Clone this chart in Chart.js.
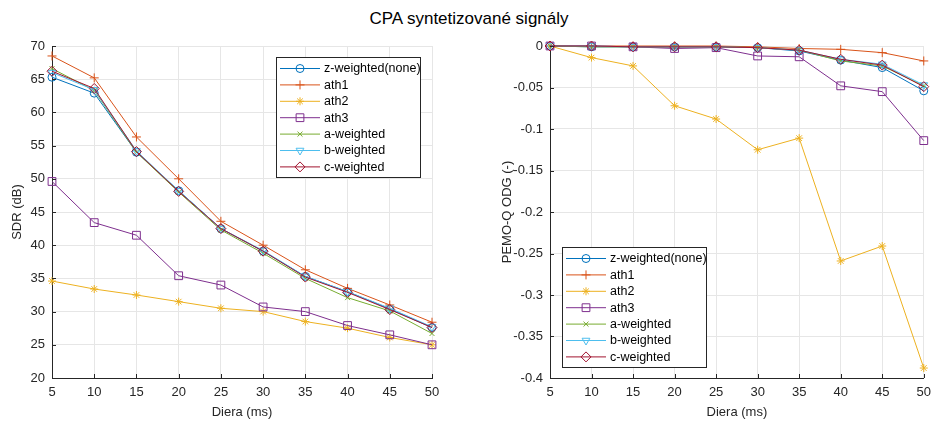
<!DOCTYPE html>
<html>
<head>
<meta charset="utf-8">
<script src="https://cdn.jsdelivr.net/npm/chart.js@4/dist/chart.umd.min.js"></script>
<style>
  body { margin: 0; background: #fff; width: 938px; height: 421px; overflow: hidden; position: relative; font-family: "Liberation Sans", Arial, sans-serif; }
  #title { position: absolute; top: 9px; left: 0; width: 938px; text-align: center; font-size: 17px; color: #000; }
  canvas { position: absolute; top: 0; }
</style>
</head>
<body>
<div id="title">CPA syntetizované signály</div>
<canvas id="sdrChart" width="469" height="421" style="left:0"></canvas>
<canvas id="odgChart" width="469" height="421" style="left:469px"></canvas>
<script>
// data
const diera = [5, 10, 15, 20, 25, 30, 35, 40, 45, 50];
const seriesNames = ['z-weighted(none)', 'ath1', 'ath2', 'ath3', 'a-weighted', 'b-weighted', 'c-weighted'];

const sdrZ    = [65.3, 62.9, 54.0, 48.2, 42.5, 39.1, 35.3, 33.0, 30.4, 27.6];
const sdrAth1 = [68.5, 65.2, 56.3, 50.0, 43.6, 40.0, 36.3, 33.5, 31.0, 28.4];
const sdrAth2 = [34.6, 33.4, 32.5, 31.5, 30.5, 30.0, 28.5, 27.5, 26.1, 25.0];
const sdrAth3 = [49.6, 43.4, 41.5, 35.4, 34.0, 30.7, 30.0, 27.9, 26.5, 25.0];
const sdrA    = [66.6, 63.3, 54.0, 48.0, 42.3, 38.8, 35.0, 32.1, 30.1, 26.7];
const sdrB    = [66.0, 63.4, 54.2, 48.2, 42.5, 39.2, 35.3, 33.0, 30.5, 27.7];
const sdrC    = [66.2, 63.6, 54.1, 48.1, 42.5, 39.1, 35.2, 32.9, 30.3, 27.6];

const odgZ    = [0, -0.001, -0.001, -0.001, -0.001, -0.002, -0.006, -0.017, -0.026, -0.054];
const odgAth1 = [0, 0, 0, 0, 0, -0.001, -0.003, -0.004, -0.008, -0.018];
const odgAth2 = [0, -0.014, -0.024, -0.072, -0.088, -0.125, -0.111, -0.259, -0.241, -0.388];
const odgAth3 = [0, 0, -0.001, -0.003, -0.002, -0.012, -0.013, -0.048, -0.055, -0.114];
const odgA    = [0, -0.001, -0.001, -0.001, -0.001, -0.002, -0.005, -0.018, -0.024, -0.048];
const odgB    = [0, 0, -0.001, -0.001, -0.001, -0.002, -0.005, -0.016, -0.022, -0.047];
const odgC    = [0, 0, -0.001, -0.001, -0.001, -0.002, -0.005, -0.016, -0.023, -0.049];

const sdrTicks = [20, 25, 30, 35, 40, 45, 50, 55, 60, 65, 70];
const odgTicks = [-0.4, -0.35, -0.3, -0.25, -0.2, -0.15, -0.1, -0.05, 0];

// matlab default colours and markers
const colors = ['#0072BD', '#D95319', '#EDB120', '#7E2F8E', '#77AC30', '#4DBEEE', '#A2142F'];
const markers = ['circle', 'cross', 'star', 'rect', 'crossRot', 'triangle', 'rectRot'];
const markerRadius = [4, 4.5, 4, 5.5, 3.5, 4.5, 5];
const markerRotation = [0, 0, 0, 0, 0, 180, 0];

const FONT = '"Liberation Sans", Arial, sans-serif';
const TEXT = '#262626';

function makeDatasets(lists) {
    return lists.map(function (vals, i) {
        return {
            label: seriesNames[i],
            data: vals.map(function (v, j) { return { x: diera[j], y: v }; }),
            borderColor: colors[i],
            backgroundColor: 'rgba(0,0,0,0)',
            pointBorderColor: colors[i],
            pointBackgroundColor: 'rgba(0,0,0,0)',
            pointStyle: markers[i],
            pointRadius: markerRadius[i],
            pointRotation: markerRotation[i],
            pointBorderWidth: 1,
            borderWidth: 1,
            tension: 0,
            clip: false,
            order: lists.length - i
        };
    });
}

function drawMarker(ctx, style, x, y, r, rot) {
    ctx.beginPath();
    if (style === 'circle') {
        ctx.arc(x, y, r, 0, Math.PI * 2);
    } else if (style === 'rect') {
        const s = r * Math.SQRT1_2;
        ctx.rect(x - s, y - s, 2 * s, 2 * s);
    } else if (style === 'rectRot') {
        ctx.moveTo(x, y - r); ctx.lineTo(x + r, y); ctx.lineTo(x, y + r); ctx.lineTo(x - r, y); ctx.closePath();
    } else if (style === 'triangle') {
        const d = rot === 180 ? -1 : 1;
        ctx.moveTo(x, y - d * r);
        ctx.lineTo(x + r * 0.866, y + d * r * 0.5);
        ctx.lineTo(x - r * 0.866, y + d * r * 0.5);
        ctx.closePath();
    } else {
        if (style === 'cross' || style === 'star') {
            ctx.moveTo(x, y - r); ctx.lineTo(x, y + r);
            ctx.moveTo(x - r, y); ctx.lineTo(x + r, y);
        }
        if (style === 'crossRot' || style === 'star') {
            const s = r * Math.SQRT1_2;
            ctx.moveTo(x - s, y - s); ctx.lineTo(x + s, y + s);
            ctx.moveTo(x + s, y - s); ctx.lineTo(x - s, y + s);
        }
    }
    ctx.stroke();
}

// legend box drawn inside the plot area, matlab style
const boxLegend = {
    id: 'boxLegend',
    afterDatasetsDraw(chart, args, opts) {
        const ctx = chart.ctx;
        const area = chart.chartArea;
        const w = 144, rowH = 16.4, h = 120;
        let x0, y0;
        if (opts.corner === 'ne') { x0 = area.right - 12 - w; y0 = area.top + 11; }
        else { x0 = area.left + 12; y0 = area.bottom - 11 - h; }
        ctx.save();
        ctx.fillStyle = '#fff';
        ctx.fillRect(x0, y0, w, h);
        ctx.strokeStyle = '#262626';
        ctx.lineWidth = 1;
        ctx.strokeRect(x0 + 0.5, y0 + 0.5, w, h);
        ctx.font = '12.5px ' + FONT;
        ctx.textBaseline = 'middle';
        chart.data.datasets.forEach(function (ds, i) {
            const y = y0 + 11.5 + i * rowH;
            ctx.strokeStyle = ds.borderColor;
            ctx.lineWidth = 1;
            ctx.beginPath();
            ctx.moveTo(x0 + 4, y); ctx.lineTo(x0 + 44, y);
            ctx.stroke();
            drawMarker(ctx, ds.pointStyle, x0 + 24, y, ds.pointRadius, ds.pointRotation);
            ctx.fillStyle = '#000';
            ctx.fillText(ds.label, x0 + 48, y + 0.5);
        });
        ctx.restore();
    }
};

// short tick marks pointing into the plot
const innerTicks = {
    id: 'innerTicks',
    afterDraw(chart) {
        const ctx = chart.ctx;
        const area = chart.chartArea;
        const xs = chart.scales.x, ys = chart.scales.y;
        ctx.save();
        ctx.strokeStyle = '#262626';
        ctx.lineWidth = 1;
        ctx.beginPath();
        xs.ticks.forEach(function (t) {
            const px = Math.round(xs.getPixelForValue(t.value)) + 0.5;
            ctx.moveTo(px, area.bottom); ctx.lineTo(px, area.bottom - 4);
        });
        ys.ticks.forEach(function (t) {
            const py = Math.round(ys.getPixelForValue(t.value)) + 0.5;
            ctx.moveTo(area.left, py); ctx.lineTo(area.left + 4, py);
        });
        ctx.stroke();
        ctx.restore();
    }
};

function makeChart(id, lists, yTicks, yLabel, yWidth, padRight, titlePad, corner) {
    const ctx = document.getElementById(id).getContext('2d');
    return new Chart(ctx, {
        type: 'line',
        data: { datasets: makeDatasets(lists) },
        options: {
            responsive: false,
            animation: false,
            events: [],
            layout: { padding: { top: 46, right: padRight, bottom: 0, left: 0 } },
            plugins: {
                legend: { display: false },
                tooltip: { enabled: false },
                boxLegend: { corner: corner }
            },
            scales: {
                x: {
                    type: 'linear',
                    min: diera[0],
                    max: diera[diera.length - 1],
                    afterBuildTicks: function (scale) {
                        scale.ticks = diera.map(function (v) { return { value: v }; });
                    },
                    afterFit: function (scale) { scale.height = 43; },
                    grid: { color: '#e6e6e6', drawTicks: false },
                    border: { color: '#262626', width: 1 },
                    ticks: { color: TEXT, font: { family: FONT, size: 13 }, padding: 7, maxRotation: 0 },
                    title: { display: true, text: 'Diera (ms)', color: TEXT, font: { family: FONT, size: 13 }, padding: { top: 0, bottom: 1 } }
                },
                y: {
                    min: yTicks[0],
                    max: yTicks[yTicks.length - 1],
                    afterBuildTicks: function (scale) {
                        scale.ticks = yTicks.map(function (v) { return { value: v }; });
                    },
                    afterFit: function (scale) { scale.width = yWidth; },
                    grid: { color: '#e6e6e6', drawTicks: false },
                    border: { color: '#262626', width: 1 },
                    ticks: {
                        color: TEXT,
                        font: { family: FONT, size: 13 },
                        padding: 7,
                        callback: function (v) { return String(Number(v.toFixed(2))); }
                    },
                    title: { display: true, text: yLabel, color: TEXT, font: { family: FONT, size: 13 }, padding: { top: titlePad, bottom: 0 } }
                }
            }
        },
        plugins: [innerTicks, boxLegend]
    });
}

document.addEventListener('DOMContentLoaded', function () {
    makeChart('sdrChart', [sdrZ, sdrAth1, sdrAth2, sdrAth3, sdrA, sdrB, sdrC], sdrTicks, 'SDR (dB)', 52, 37, 10, 'ne');
    makeChart('odgChart', [odgZ, odgAth1, odgAth2, odgAth3, odgA, odgB, odgC], odgTicks, 'PEMO-Q ODG (-)', 81, 7, 31, 'sw');
});
</script>
</body>
</html>
